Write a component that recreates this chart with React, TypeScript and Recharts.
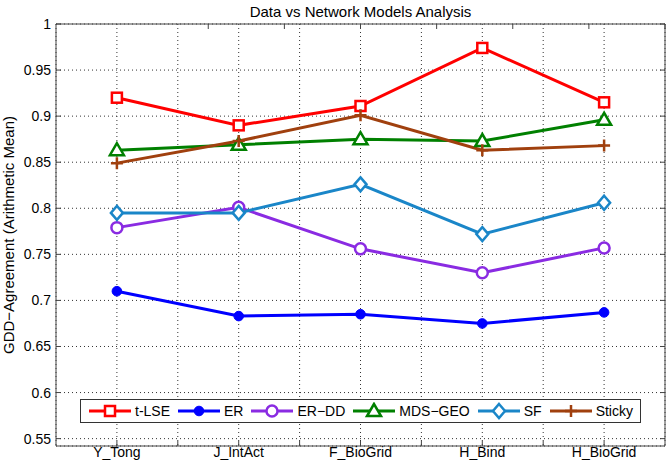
import React from 'react';
import { LineChart, Line, XAxis, YAxis, CartesianGrid, Legend } from 'recharts';

const categories = ['Y_Tong', 'J_IntAct', 'F_BioGrid', 'H_Bind', 'H_BioGrid'];
const tLSE = [0.920, 0.890, 0.911, 0.974, 0.915];
const er = [0.710, 0.683, 0.685, 0.675, 0.687];
const erDD = [0.779, 0.801, 0.756, 0.730, 0.757];
const mdsGeo = [0.863, 0.869, 0.875, 0.873, 0.896];
const sf = [0.795, 0.795, 0.826, 0.772, 0.806];
const sticky = [0.849, 0.873, 0.901, 0.863, 0.868];

const xTicks = [1, 1.5, 2, 2.5, 3, 3.5, 4, 4.5, 5];
const yTicks = [0.55, 0.6, 0.65, 0.7, 0.75, 0.8, 0.85, 0.9, 0.95, 1];

const title = 'Data vs Network Models Analysis';
const yLabel = 'GDD\u2212Agreement (Arithmetic Mean)';

const series = [
  { key: 'tLSE', name: 't-LSE', values: tLSE, color: '#ff0000', shape: 'square' },
  { key: 'er', name: 'ER', values: er, color: '#0000ff', shape: 'dot' },
  { key: 'erDD', name: 'ER\u2212DD', values: erDD, color: '#8a2be2', shape: 'circle' },
  { key: 'mdsGeo', name: 'MDS\u2212GEO', values: mdsGeo, color: '#008000', shape: 'triangle' },
  { key: 'sf', name: 'SF', values: sf, color: '#1a86c8', shape: 'diamond' },
  { key: 'sticky', name: 'Sticky', values: sticky, color: '#a0400e', shape: 'plus' },
];

const data = categories.map((c, i) => {
  const row: any = { x: i + 1, name: c };
  series.forEach((s) => { row[s.key] = s.values[i]; });
  return row;
});

const FONT = '"Liberation Sans", Arial, Helvetica, sans-serif';
const FRAME = '#444';

function Marker({ shape, color, cx, cy }: any) {
  const sw = 2.5;
  switch (shape) {
    case 'square':
      return <rect x={cx - 5} y={cy - 5} width={10} height={10} fill="#fff" stroke={color} strokeWidth={sw} />;
    case 'dot':
      return <circle cx={cx} cy={cy} r={4.8} fill={color} stroke={color} strokeWidth={1} />;
    case 'circle':
      return <circle cx={cx} cy={cy} r={5.5} fill="#fff" stroke={color} strokeWidth={sw} />;
    case 'triangle':
      return <polygon points={`${cx},${cy - 7} ${cx - 7},${cy + 5} ${cx + 7},${cy + 5}`} fill="#fff" stroke={color} strokeWidth={sw} strokeLinejoin="miter" />;
    case 'diamond':
      return <polygon points={`${cx},${cy - 7} ${cx + 6},${cy} ${cx},${cy + 7} ${cx - 6},${cy}`} fill="#fff" stroke={color} strokeWidth={sw} />;
    case 'plus':
      return <path d={`M${cx - 6},${cy}H${cx + 6}M${cx},${cy - 6}V${cy + 6}`} stroke={color} strokeWidth={sw} fill="none" />;
    default:
      return null;
  }
}

const makeDot = (shape: string, color: string) => (p: any) => (
  <g key={`d-${shape}-${p.index}`}>
    <Marker shape={shape} color={color} cx={p.cx} cy={p.cy} />
  </g>
);

const renderLegend = () => (
  <div
    style={{
      boxSizing: 'border-box',
      width: 561,
      height: 24,
      border: '1px solid #333',
      background: '#fff',
      display: 'flex',
      alignItems: 'center',
      paddingLeft: 8,
      fontFamily: FONT,
      fontSize: 14,
      color: '#000',
      whiteSpace: 'nowrap',
    }}
  >
    {series.map((s) => (
      <div key={s.key} style={{ display: 'flex', alignItems: 'center', marginRight: 8 }}>
        <svg width={42} height={18} style={{ display: 'block' }}>
          <line x1={0} y1={9} x2={42} y2={9} stroke={s.color} strokeWidth={3} />
          <Marker shape={s.shape} color={s.color} cx={21} cy={9} />
        </svg>
        <span style={{ marginLeft: 4 }}>{s.name}</span>
      </div>
    ))}
  </div>
);

const fmtY = (v: number) => String(Number(v.toFixed(2)));
const fmtX = (v: number) => (Number.isInteger(v) ? categories[v - 1] : '');

export default function App() {
  return (
    <div style={{ position: 'absolute', left: 0, top: 0, width: 670, height: 462, background: '#fff' }}>
      <LineChart width={670} height={462} data={data} margin={{ top: 0, right: 0, bottom: 0, left: 0 }} style={{ fontFamily: FONT }}>
        <CartesianGrid stroke="#333" strokeDasharray="1 3" strokeWidth={1} />
        <XAxis
          dataKey="x"
          type="number"
          domain={[0.5, 5.5]}
          ticks={xTicks}
          tickFormatter={fmtX}
          interval={0}
          height={16}
          tickSize={-5}
          tickMargin={6}
          stroke={FRAME}
          tick={{ fill: '#000', fontSize: 14 }}
          allowDataOverflow
        />
        <XAxis
          xAxisId="top"
          orientation="top"
          type="number"
          domain={[0.5, 5.5]}
          ticks={xTicks}
          tickFormatter={() => ''}
          interval={0}
          height={24}
          tickSize={-5}
          stroke={FRAME}
          allowDataOverflow
          label={{ value: title, position: 'insideTop', offset: 6, fill: '#000', fontSize: 15 }}
        />
        <YAxis
          type="number"
          domain={[0.542, 1]}
          ticks={yTicks}
          tickFormatter={fmtY}
          interval={0}
          width={56}
          tickSize={-5}
          tickMargin={10}
          stroke={FRAME}
          tick={{ fill: '#000', fontSize: 14 }}
          allowDataOverflow
          label={{ value: yLabel, angle: -90, position: 'insideLeft', offset: 9, fill: '#000', fontSize: 15, style: { textAnchor: 'middle' } }}
        />
        <YAxis
          yAxisId="right"
          orientation="right"
          type="number"
          domain={[0.542, 1]}
          ticks={yTicks}
          tickFormatter={() => ''}
          interval={0}
          width={5}
          tickSize={-5}
          stroke={FRAME}
          allowDataOverflow
        />
        {series.map((s) => (
          <Line
            key={s.key}
            dataKey={s.key}
            name={s.name}
            stroke={s.color}
            strokeWidth={3}
            isAnimationActive={false}
            dot={makeDot(s.shape, s.color)}
            activeDot={false}
          />
        ))}
        <Legend
          layout="horizontal"
          verticalAlign="middle"
          align="center"
          content={renderLegend}
          wrapperStyle={{ left: 80, top: 399, width: 561, height: 24 }}
        />
      </LineChart>
    </div>
  );
}
